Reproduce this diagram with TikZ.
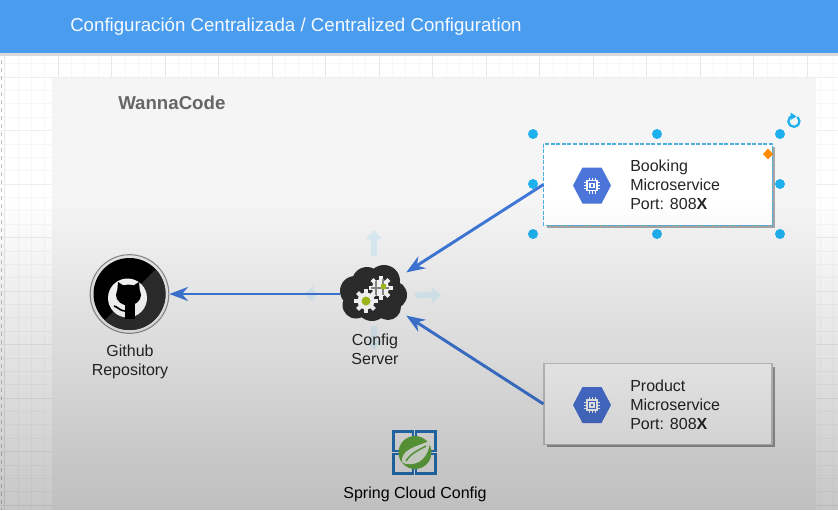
\documentclass[tikz,border=0pt]{standalone}
\usepackage{fontspec}
\setmainfont{Liberation Sans}
\usetikzlibrary{arrows.meta,fadings,shapes.geometric}
\definecolor{hdr}{HTML}{4A9DEE}
\definecolor{flow}{HTML}{3F78D8}
\definecolor{handlec}{HTML}{1FB0EE}
\definecolor{selc}{HTML}{4FB0E0}
\definecolor{faint}{HTML}{DCEEF5}
\definecolor{hexc}{HTML}{4B75D9}
\definecolor{cloudc}{HTML}{2E2E2E}
\definecolor{limec}{HTML}{A9C31E}
\definecolor{springb}{HTML}{2676BC}
\definecolor{springg}{HTML}{66AE42}
\tikzfading[name=darken, top color=transparent!100, bottom color=transparent!78]
\tikzset{
  x=0.75pt,y=-0.75pt,
  body/.style={font=\fontsize{12}{14.25}\selectfont,text=black!85,inner sep=0pt},
  msgbox/.style={draw=black!22,fill=white,line width=0.8pt,minimum width=171pt,minimum height=60.5pt,inner sep=0pt},
  flowline/.style={draw=flow,line width=2.2pt,-{Stealth[length=14pt,width=10.5pt]},shorten >=0pt},
  fatarrow/.style={draw=faint,line width=4pt,-{Triangle[length=7pt,width=12pt]}},
  handle/.style={circle,fill=handlec,minimum size=7.5pt,inner sep=0pt},
  hexicon/.pic={
    \fill[hexc] (-19,0) -- (-9.5,-18) -- (9.5,-18) -- (19,0) -- (9.5,18) -- (-9.5,18) -- cycle;
    \draw[white,line width=0.9pt] (-5,-5) rectangle (5,5);
    \draw[white,line width=0.8pt] (-2,-2) rectangle (2,2);
    \foreach \p in {-3,0,3}{
      \draw[white,line width=0.6pt] (\p,-5) -- (\p,-8) (\p,5) -- (\p,8) (-5,\p) -- (-8,\p) (5,\p) -- (8,\p);
    }
  },
  gearicon/.pic={
    \fill[white] (0,0) circle (8.5);
    \foreach \a in {0,45,...,315}{
      \fill[white,rotate=\a] (-2,0) rectangle (2,12);
    }
  }
}
\begin{document}
\begin{tikzpicture}
\useasboundingbox (0,0) rectangle (838,510);
% canvas with grid
\fill[white] (0,0) rectangle (838,510);
\foreach \i in {0,...,62}{
  \draw[black!3,line width=0.5pt] ({4.5+13.375*\i},52) -- ({4.5+13.375*\i},510);
}
\foreach \i in {0,...,35}{
  \draw[black!3,line width=0.5pt] (0,{50.25+13.375*\i}) -- (838,{50.25+13.375*\i});
}
\foreach \i in {0,...,15}{
  \draw[black!9,line width=0.6pt] ({4.5+53.5*\i},52) -- ({4.5+53.5*\i},510);
}
\foreach \i in {0,...,8}{
  \draw[black!7,line width=0.6pt] (0,{77+53.5*\i}) -- (838,{77+53.5*\i});
}
\draw[black!25,dashed,line width=0.7pt] (1,52) -- (1,510);
% panel
\fill[black!4] (52,78) rectangle (816,510);
% header
\fill[black!14] (0,52) rectangle (838,56);
\fill[hdr] (0,0) rectangle (838,53);
\node[anchor=west,inner sep=0pt,text=white!95!hdr,font=\fontsize{14}{16}\selectfont] (title) at (70,27) {Configuración Centralizada / Centralized Configuration};
\node[anchor=west,inner sep=0pt,text=black!60,font=\fontsize{14}{16}\selectfont\bfseries] (brand) at (118,103) {WannaCode};
% faint move arrows around the config server
\coordinate (upa) at (374,256); \coordinate (upb) at (374,230);
\coordinate (ria) at (415,295); \coordinate (rib) at (441,295);
\coordinate (lea) at (316,294); \coordinate (leb) at (304,294);
\coordinate (doa) at (374,326); \coordinate (dob) at (374,350);
\draw[fatarrow] (upa) -- (upb);
\draw[fatarrow] (ria) -- (rib);
\draw[fatarrow] (lea) -- (leb);
\draw[fatarrow] (doa) -- (dob);
% boxes
\fill[black!35] (547,147) rectangle (775,228);
\node[msgbox,draw=none] (booking) at (658,184.5) {};
\draw[selc,line width=1.3pt,dash pattern=on 3pt off 1.2pt] (booking.north west) rectangle (booking.south east);
\fill[black!40] (547,367) rectangle (775,447);
\node[msgbox] (product) at (658,404) {};
\pic at (592,185.5) {hexicon};
\pic at (592,405) {hexicon};
\node[body,anchor=west,align=left] (booktxt) at (630,185) {Booking\\Microservice\\Port: 808\textbf{X}};
\node[body,anchor=west,align=left] (prodtxt) at (630,404.5) {Product\\Microservice\\Port: 808\textbf{X}};
% selection handles
\foreach \hx/\hy in {533/134,657/134,780/134,533/184,780/184,533/234,657/234,780/234}{
  \node[handle] at (\hx,\hy) {};
}
\fill[orange!90!yellow] (768,148.5) -- (773,154) -- (768,159.5) -- (763,154) -- cycle;
\draw[handlec,line width=1.7pt] (797.5,117) arc (-50:250:5.6);
\fill[handlec] (790.5,112.5) -- (796.5,116.5) -- (790.5,120) -- cycle;
% config server cloud
\node[minimum width=49.5pt,minimum height=39pt,inner sep=0pt] (cfg) at (373,294) {};
\fill[cloudc] (355,291) circle (15) (367,282) circle (15) (384,281) circle (16)
  (393,295) circle (14) (356,305) circle (13.5) (372,305) circle (16) (388,307) circle (13) (373,295) circle (20);
\pic at (366,301) {gearicon};
\fill[limec] (366,301) circle (4.5);
\pic at (380.5,288) {gearicon};
\draw[black!45,line width=0.8pt] (376,281) -- (376,295) (383,279) -- (383,295) (371,288) -- (389,288);
\fill[limec] (381,284) rectangle (386,289);
\node[body,align=center] (cfgtxt) at (375,349.5) {Config\\Server};
% github
\node[circle,draw=black!45,line width=0.8pt,fill=white!92!black,minimum size=59pt,inner sep=0pt] (github) at (129.5,294) {};
\fill[black] (129.5,294) circle (36);
\begin{scope}
  \clip (129.5,294) circle (36);
  \fill[cloudc] (175,250) -- (175,340) -- (85,340) -- cycle;
\end{scope}
\fill[white] (127.5,298) circle (19.5);
\fill[black] (128.5,295) ellipse (12.5 and 10.5);
\fill[black] (117,293) -- (118,282) -- (126,287) -- cycle;
\fill[black] (140,293) -- (139,282) -- (131,287) -- cycle;
\fill[black] (125,302) rectangle (135,319);
\draw[black,line width=1.2pt] (125,311) .. controls (120,311) and (118,307) .. (114,306);
\node[body,align=center] (ghtxt) at (130,361.5) {Github\\Repository};
% spring
\foreach \sx/\sy in {393.5/431.5,416/431.5,393.5/454,416/454}{
  \draw[springb,line width=1.9pt] (\sx,\sy) rectangle ++(19.5,19.5);
}
\fill[springg] (415,452.5) circle (16.5);
\fill[white!88!springg] (402,462) .. controls (401,450) and (414,447) .. (430,441) .. controls (429,457) and (419,466) .. (406,464) -- cycle;
\draw[springg,line width=1.1pt] (406,461) .. controls (411,453) and (419,450) .. (426,446);
\node[body,text=black,fill=white,fill opacity=0.15,text opacity=1,inner ysep=2pt,inner xsep=1pt] (springtxt) at (415,494) {Spring Cloud Config};
% connectors
\draw[flowline] (booking.west) -- (cfg.33);
\draw[flowline] (product.west) -- (cfg.-33);
\draw[flowline] (cfg.west) -- (github.east);
% fade over the lower part
\fill[black,path fading=darken] (0,200) rectangle (838,510);
\end{tikzpicture}
\end{document}
